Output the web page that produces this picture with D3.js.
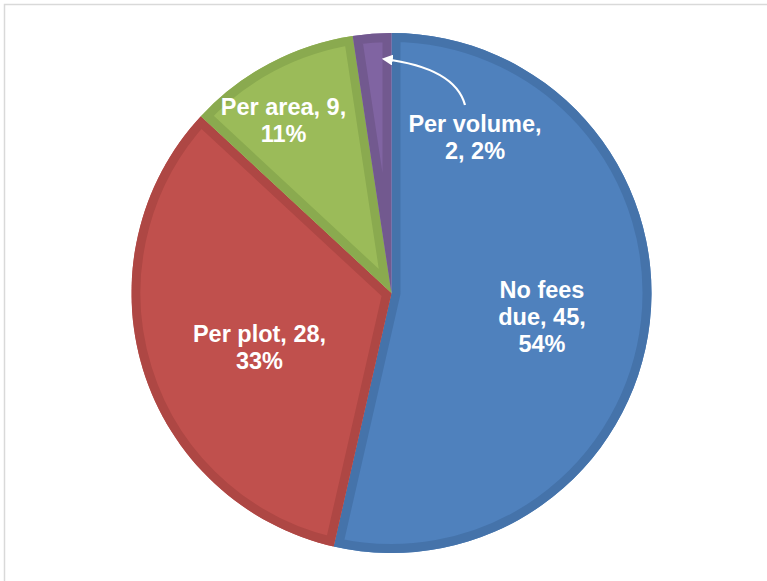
<!DOCTYPE html>
<html>
<head>
<meta charset="utf-8">
<script src="https://cdnjs.cloudflare.com/ajax/libs/d3/7.8.5/d3.min.js"></script>
<style>
  html, body { margin: 0; padding: 0; background: #ffffff; }
  svg { display: block; }
</style>
</head>
<body>
<svg id="chart" width="767" height="581"></svg>
<script>
// Fee basis categories and counts
const categories = ["No fees due", "Per plot", "Per area", "Per volume"];
const counts = [45, 28, 9, 2];
const percents = ["54%", "33%", "11%", "2%"];
const fills = ["#4F81BD", "#C0504D", "#9BBB59", "#8064A2"];
const edges = ["#4573AA", "#AE4744", "#8AAA4F", "#72598F"];

// Label lines per slice
const labelLines = [
  ["No fees", "due, 45,", "54%"],
  ["Per plot, 28,", "33%"],
  ["Per area, 9,", "11%"],
  ["Per volume,", "2, 2%"]
];

const W = 767, H = 581;
const cx = 391.5, cy = 293, R = 260;
const band = 9;

const svg = d3.select("#chart");
const defs = svg.append("defs");

// outer frame
svg.append("rect")
  .attr("x", 4.5).attr("y", 4.5)
  .attr("width", W + 10).attr("height", H + 10)
  .attr("fill", "none")
  .attr("stroke", "#d9d9d9")
  .attr("stroke-width", 1.5);

const data = categories.map((c, i) => ({ name: c, value: counts[i], i }));

const pie = d3.pie().sort(null).value(d => d.value);
const arcs = pie(data);
const arc = d3.arc().innerRadius(0).outerRadius(R);

const g = svg.append("g").attr("transform", `translate(${cx},${cy})`);

arcs.forEach((a, k) => {
  const id = "slice-clip-" + k;
  defs.append("clipPath").attr("id", id)
    .append("path")
    .attr("d", arc(a));

  g.append("path")
    .attr("d", arc(a))
    .attr("fill", fills[a.data.i]);
  // darker band running inside each slice outline
  g.append("path")
    .attr("d", arc(a))
    .attr("fill", "none")
    .attr("stroke", edges[a.data.i])
    .attr("stroke-width", band * 2)
    .attr("stroke-linejoin", "miter")
    .attr("clip-path", `url(#${id})`);
});

// label positions (centered)
const labelPos = [
  { x: 542, y: 298 },
  { x: 259.5, y: 342 },
  { x: 283.5, y: 115 },
  { x: 475, y: 132 }
];
const lineH = 27;

labelLines.forEach((lines, i) => {
  const t = svg.append("text")
    .attr("x", labelPos[i].x)
    .attr("y", labelPos[i].y)
    .attr("text-anchor", "middle")
    .attr("fill", "#ffffff")
    .attr("font-family", "Liberation Sans, Arial, sans-serif")
    .attr("font-weight", "bold")
    .attr("font-size", 23.5);
  lines.forEach((ln, j) => {
    t.append("tspan")
      .attr("x", labelPos[i].x)
      .attr("y", labelPos[i].y + j * lineH)
      .text(ln);
  });
});

// leader arrow for the smallest slice
const marker = defs.append("marker")
  .attr("id", "arrowhead")
  .attr("viewBox", "0 0 10 10")
  .attr("refX", 8).attr("refY", 5)
  .attr("markerWidth", 5).attr("markerHeight", 5)
  .attr("markerUnits", "strokeWidth")
  .attr("orient", "auto");
marker.append("path").attr("d", "M0,0 L10,5 L0,10 Z").attr("fill", "#ffffff");

const lp = d3.path();
lp.moveTo(465, 105);
lp.quadraticCurveTo(455, 68, 384, 59);
svg.append("path")
  .attr("d", lp.toString())
  .attr("fill", "none")
  .attr("stroke", "#ffffff")
  .attr("stroke-width", 2.2)
  .attr("marker-end", "url(#arrowhead)");
</script>
</body>
</html>
